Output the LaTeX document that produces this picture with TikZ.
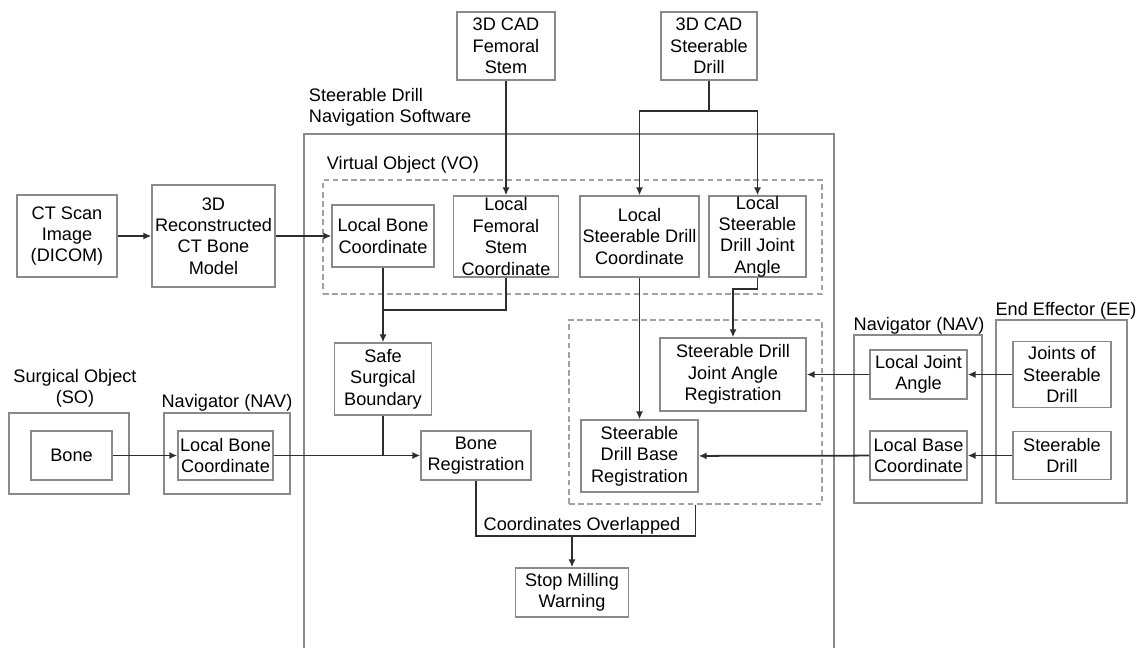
\documentclass[tikz,border=0pt]{standalone}
\usepackage{fontspec}
\setmainfont{Liberation Sans}
\usetikzlibrary{arrows.meta}
\definecolor{boxgray}{HTML}{8A8A8A}
\definecolor{linegray}{HTML}{2E2E2E}

\begin{document}
\begin{tikzpicture}[x=0.025cm, y=-0.025cm,
  every node/.style={font=\fontsize{12.9}{15.2}\selectfont, text=black},
  box/.style={draw=boxgray, line width=1pt, align=center, inner sep=0pt},
  group/.style={draw=boxgray, line width=1pt, inner sep=0pt},
  vgroup/.style={group, dashed, dash pattern=on 4pt off 2.5pt, draw=boxgray!80},
  conn/.style={draw=linegray, line width=1.25pt},
  arr/.style={conn, -{Latex[length=2mm, width=1.8mm]}}]
\useasboundingbox (0,0) rectangle (1142,647);

% software frame, open at the bottom
\draw[boxgray, line width=1pt] (304,660) -- (304,134) -- (834,134) -- (834,660);
\node[anchor=west, align=left] (swlabel) at (304,107) {Steerable Drill\\Navigation Software};

% groups
\node[vgroup, minimum width=12.475cm, minimum height=2.85cm] (vo) at (572.5,237) {};
\node[anchor=west] (volabel) at (322,165) {Virtual Object (VO)};
\node[vgroup, minimum width=6.325cm, minimum height=4.6cm] (reg) at (695.5,412) {};
\node[group, minimum width=3cm, minimum height=2.025cm] (so) at (69,453.5) {};
\node[align=center] (solabel) at (75,388) {Surgical Object\\(SO)};
\node[group, minimum width=3.15cm, minimum height=2.025cm] (navl) at (227,453.5) {};
\node (navllabel) at (227,403) {Navigator (NAV)};
\node[group, minimum width=3.2cm, minimum height=4.2cm] (navr) at (918,419) {};
\node (navrlabel) at (919,326) {Navigator (NAV)};
\node[group, minimum width=3.275cm, minimum height=4.575cm] (ee) at (1061.5,411.5) {};
\node (eelabel) at (1066,311) {End Effector (EE)};

% inputs
\node[box, minimum width=2.5cm, minimum height=2.05cm] (ct) at (67,236) {CT Scan\\Image\\(DICOM)};
\node[box, minimum width=3.075cm, minimum height=2.55cm] (recon) at (213.5,236) {3D\\Reconstructed\\CT Bone\\Model};
\node[box, minimum width=2.45cm, minimum height=1.7cm] (cadstem) at (506,46) {3D CAD\\Femoral\\Stem};
\node[box, minimum width=2.4cm, minimum height=1.7cm] (caddrill) at (709,46) {3D CAD\\Steerable\\Drill};

% virtual object
\node[box, minimum width=2.55cm, minimum height=1.55cm] (lbone) at (383,236) {Local Bone\\Coordinate};
\node[box, minimum width=2.625cm, minimum height=2.025cm] (lstem) at (506,236.5) {Local\\Femoral\\Stem\\Coordinate};
\node[box, minimum width=2.975cm, minimum height=2.025cm] (ldrill) at (639.5,236.5) {Local\\Steerable Drill\\Coordinate};
\node[box, minimum width=2.425cm, minimum height=2.025cm] (ljoint) at (757.5,236.5) {Local\\Steerable\\Drill Joint\\Angle};

% registration
\node[box, minimum width=2.425cm, minimum height=1.8cm] (safe) at (383,379) {Safe\\Surgical\\Boundary};
\node[box, minimum width=2.75cm, minimum height=1.225cm] (bonereg) at (476,455.5) {Bone\\Registration};
\node[box, minimum width=3.65cm, minimum height=1.825cm] (jointreg) at (733,374.5) {Steerable Drill\\Joint Angle\\Registration};
\node[box, minimum width=2.925cm, minimum height=1.8cm] (basereg) at (639.5,456) {Steerable\\Drill Base\\Registration};
\node[box, minimum width=2.825cm, minimum height=1.225cm] (stop) at (572,592.5) {Stop Milling\\Warning};

% physical side
\node[box, minimum width=2.025cm, minimum height=1.225cm] (bone) at (71.5,455.5) {Bone};
\node[box, minimum width=2.375cm, minimum height=1.225cm] (navbone) at (225.5,455.5) {Local Bone\\Coordinate};
\node[box, minimum width=2.425cm, minimum height=1.225cm] (navjoint) at (918.5,374.5) {Local Joint\\Angle};
\node[box, minimum width=2.425cm, minimum height=1.225cm] (navbase) at (918.5,455.5) {Local Base\\Coordinate};
\node[box, minimum width=2.45cm, minimum height=1.65cm] (eejoint) at (1062,374.5) {Joints of\\Steerable\\Drill};
\node[box, minimum width=2.45cm, minimum height=1.2cm] (eedrill) at (1062,455.5) {Steerable\\Drill};

% connectors
\coordinate (mj) at (383,310);
\coordinate (ov) at (572,536);
\draw[arr] (ct) -- (recon);
\draw[arr] (recon) -- (lbone);
\draw[arr] (cadstem) -- (lstem);
\draw[arr] (caddrill.south) -- ++(0,30) -| (ldrill.north);
\draw[arr] (caddrill.south) -- ++(0,30) -| (ljoint.north);
\draw[arr] (lbone) -- (safe);
\draw[conn] (lstem.south) |- (mj);
\draw[conn] (safe.south) -- (safe.south |- bonereg.west);
\draw[arr] (bone) -- (navbone);
\draw[arr] (navbone) -- (bonereg);
\draw[arr] (ldrill) -- (basereg);
\draw[arr] (ljoint.south) -- ++(0,11) -| (jointreg.north);
\draw[arr] (eejoint) -- (navjoint);
\draw[arr] (navjoint) -- (jointreg);
\draw[arr] (eedrill) -- (navbase);
\draw[arr] (navbase) -- (basereg);
\draw[conn] (bonereg.south) |- (reg.south |- ov) -- (reg.south);
\draw[arr] (ov) -- (stop);
\node (ovlabel) at (582,526) {Coordinates Overlapped};
\end{tikzpicture}
\end{document}
